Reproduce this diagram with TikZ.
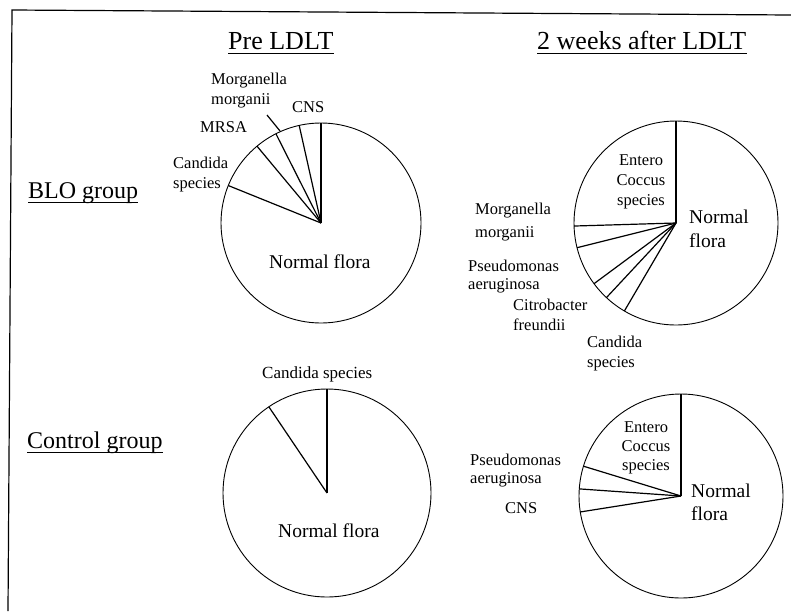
\documentclass[tikz,border=0pt]{standalone}
\usepackage{fontspec}
\setmainfont{Liberation Serif}
\usetikzlibrary{calc}
\begin{document}
\begin{tikzpicture}[x=1pt,y=-1pt,
  frame/.style={line width=1.2pt},
  pie/.style={line width=0.9pt},
  spoke/.style={line width=1.2pt},
  head/.style={font=\fontsize{26}{30}\selectfont, inner sep=0pt, anchor=base west},
  grp/.style={font=\fontsize{24}{28}\selectfont, inner sep=0pt, anchor=base west},
  big/.style={font=\fontsize{19.5}{24}\selectfont, inner sep=0pt, anchor=base west, align=left},
  lbl/.style={font=\fontsize{16.5}{20}\selectfont, inner sep=0pt, anchor=base west, align=left},
  uline/.style={line width=1.3pt}]
\useasboundingbox (0,0) rectangle (791,611);
\draw[frame] (8,611) -- (12,10) -- (791,15);

% headers
\node[head] (h1) at (228,49) {Pre LDLT};
\node[head] (h2) at (537,49) {2 weeks after LDLT};
\node[grp] (g1) at (28,198) {BLO group};
\node[grp] (g2) at (27,448) {Control group};
\foreach \n in {h1,h2,g1,g2}
  \draw[uline] ($(\n.base west)+(0,4.5)$) -- ($(\n.base east)+(0,4.5)$);

% pie 1
\coordinate (p1) at (321,223);
\draw[pie] (p1) circle[radius=100];
\foreach \a in {90,102.6,116.8,129.8,158}
  \draw[spoke] (p1) -- ++(-\a:100);
\node[lbl] (m1) at (211,104) {Morganella\\morganii};
\coordinate (m1a) at (267,115);
\coordinate (m1b) at (280,131);
\draw[spoke] (m1a) -- (m1b);
\node[lbl] (mrsa) at (200,132) {MRSA};
\node[lbl] (cns1) at (292,112) {CNS};
\node[lbl] (cand1) at (173,188) {Candida\\species};
\node[big] (nf1) at (269,268) {Normal flora};

% pie 2
\coordinate (p2) at (676,223);
\draw[pie] (p2) circle[radius=102];
\foreach \a in {90,181.7,194,216.5,227,239.6}
  \draw[spoke] (p2) -- ++(-\a:102);
\node[lbl, anchor=base, align=center] (ent2) at (641,205) {Entero\\Coccus\\species};
\node[big, font=\fontsize{19.5}{24}\selectfont] (nf2) at (689,247) {Normal\\flora};
\node[lbl, font=\fontsize{16.5}{23}\selectfont] (m2) at (475,237) {Morganella\\morganii};
\node[lbl, font=\fontsize{16.5}{18}\selectfont] (ps2) at (468,289) {Pseudomonas\\aeruginosa};
\node[lbl] (cit2) at (513,330) {Citrobacter\\freundii};
\node[lbl] (cand2) at (587,367) {Candida\\species};

% pie 3
\coordinate (p3) at (327,493);
\draw[pie] (p3) circle[radius=104];
\foreach \a in {90,124}
  \draw[spoke] (p3) -- ++(-\a:104);
\node[lbl, font=\fontsize{17}{20}\selectfont] (cand3) at (262,378) {Candida species};
\node[big] (nf3) at (278,537) {Normal flora};

% pie 4
\coordinate (p4) at (681,496);
\draw[pie] (p4) circle[radius=102];
\foreach \a in {90,163,176,189}
  \draw[spoke] (p4) -- ++(-\a:102);
\node[lbl, anchor=base, align=center, font=\fontsize{16.5}{19}\selectfont] (ent4) at (646,470) {Entero\\Coccus\\species};
\node[big, font=\fontsize{19.5}{23}\selectfont] (nf4) at (691,520) {Normal\\flora};
\node[lbl, font=\fontsize{16.5}{18}\selectfont] (ps4) at (470,483) {Pseudomonas\\aeruginosa};
\node[lbl] (cns4) at (505,513) {CNS};
\end{tikzpicture}
\end{document}
